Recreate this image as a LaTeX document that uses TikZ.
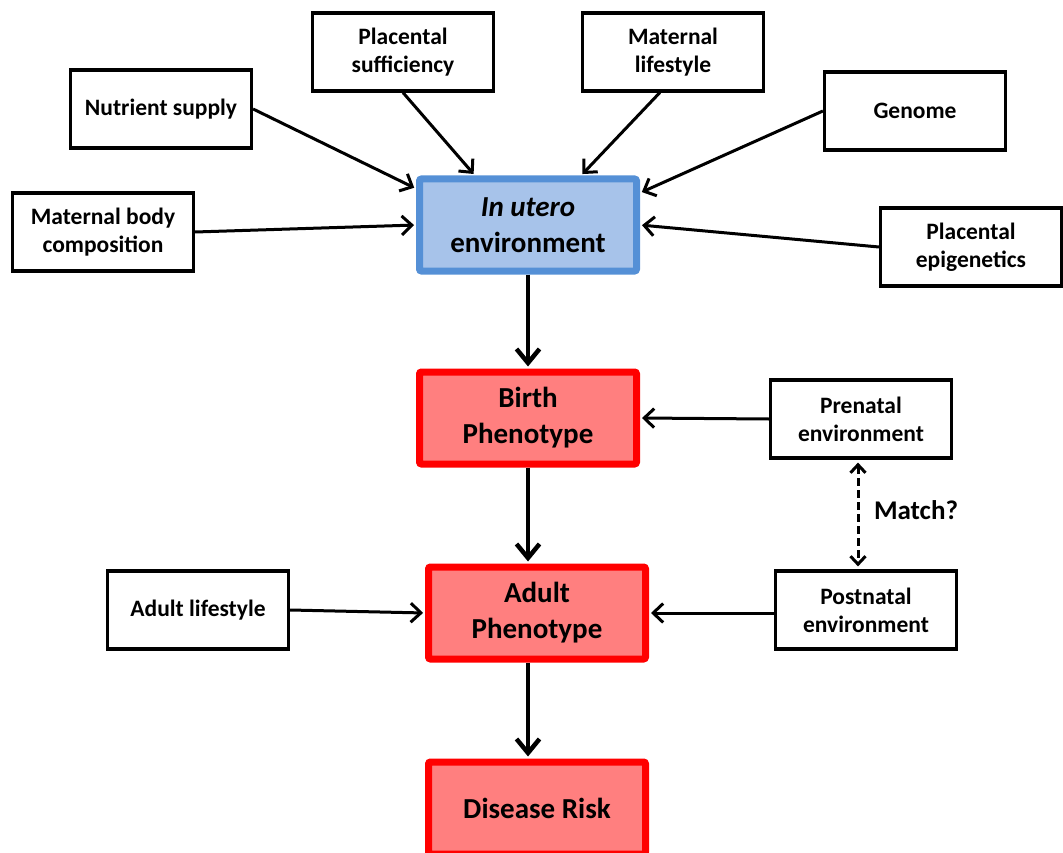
\documentclass[tikz,border=0pt]{standalone}
\usepackage{fontspec}
\setmainfont{Carlito}
\usetikzlibrary{arrows.meta}

\definecolor{uteroblue}{HTML}{A7C3EA}
\definecolor{uteroedge}{HTML}{5590D6}
\definecolor{phenored}{HTML}{FF7F7F}

\begin{document}
\begin{tikzpicture}[x=1pt, y=-1pt,
factorbox/.style={rectangle, draw=black, fill=white, line width=3.2pt, minimum width=181pt, minimum height=78pt, align=center, font=\fontsize{23.5}{28}\selectfont\bfseries},
stagebox/.style={rectangle, rounded corners=2pt, line width=7pt, minimum width=217pt, minimum height=92pt, align=center, font=\fontsize{29}{36}\selectfont\bfseries},
uterobox/.style={stagebox, draw=uteroedge, fill=uteroblue},
phenobox/.style={stagebox, draw=red, fill=phenored},
factorarrow/.style={-{Straight Barb[length=10pt, width=19pt, line width=3pt]}, line width=3pt, shorten >=2pt},
stagearrow/.style={-{Straight Barb[length=14pt, width=23pt, line width=4.5pt]}, line width=4.5pt, shorten >=2pt},
matcharrow/.style={{Straight Barb[length=8pt, width=15pt, line width=3pt]}-{Straight Barb[length=8pt, width=15pt, line width=3pt]}, line width=3pt, dash pattern=on 8pt off 4pt, shorten <=3pt, shorten >=3pt},
]
\useasboundingbox (0,0) rectangle (1063,853);
\clip (0,0) rectangle (1063,853);

%Nodes
\node[uterobox]   (utero)    at (528,225)   {\textit{In utero}\\environment};
\node[phenobox]   (birth)    at (528,418)   {Birth\\Phenotype};
\node[phenobox]   (adult)    at (537,613)   {Adult\\Phenotype};
\node[phenobox]   (disease)  at (537,808)   {Disease Risk};

\node[factorbox]  (suff)     at (403,52)    {Placental\\sufficiency};
\node[factorbox]  (mlife)    at (673,52)    {Maternal\\lifestyle};
\node[factorbox]  (nutrient) at (161,109)   {Nutrient supply};
\node[factorbox]  (genome)   at (915,111)   {Genome};
\node[factorbox]  (mbody)    at (103,232)   {Maternal body\\composition};
\node[factorbox]  (epigen)   at (971,247)   {Placental\\epigenetics};
\node[factorbox]  (prenatal) at (861,419)   {Prenatal\\environment};
\node[factorbox]  (postnatal) at (866,610)  {Postnatal\\environment};
\node[factorbox]  (alife)    at (198,610)   {Adult lifestyle};

\node[font=\fontsize{27}{32}\selectfont\bfseries] (match) at (916,510) {Match?};

%Lines
\draw[factorarrow] (nutrient.east) -- (utero.162);
\draw[factorarrow] (suff.south) -- (utero.137);
\draw[factorarrow] (mlife.252) -- (utero.43);
\draw[factorarrow] (genome.west) -- (utero.16);
\draw[factorarrow] (mbody.east) -- (utero.west);
\draw[factorarrow] (epigen.west) -- (utero.east);
\draw[factorarrow] (prenatal.west) -- (birth.east);
\draw[factorarrow] (alife.east) -- (adult.west);
\draw[factorarrow] (postnatal.west |- adult.east) -- (adult.east);
\draw[matcharrow] (prenatal.south) ++(-3,0) coordinate (m1) -- (m1 |- postnatal.north);

\draw[stagearrow] (utero.south) -- (birth.north);
\draw[stagearrow] (birth.south) -- (birth.south |- adult.north);
\draw[stagearrow] (birth.south |- adult.south) -- (birth.south |- disease.north);
\end{tikzpicture}
\end{document}
